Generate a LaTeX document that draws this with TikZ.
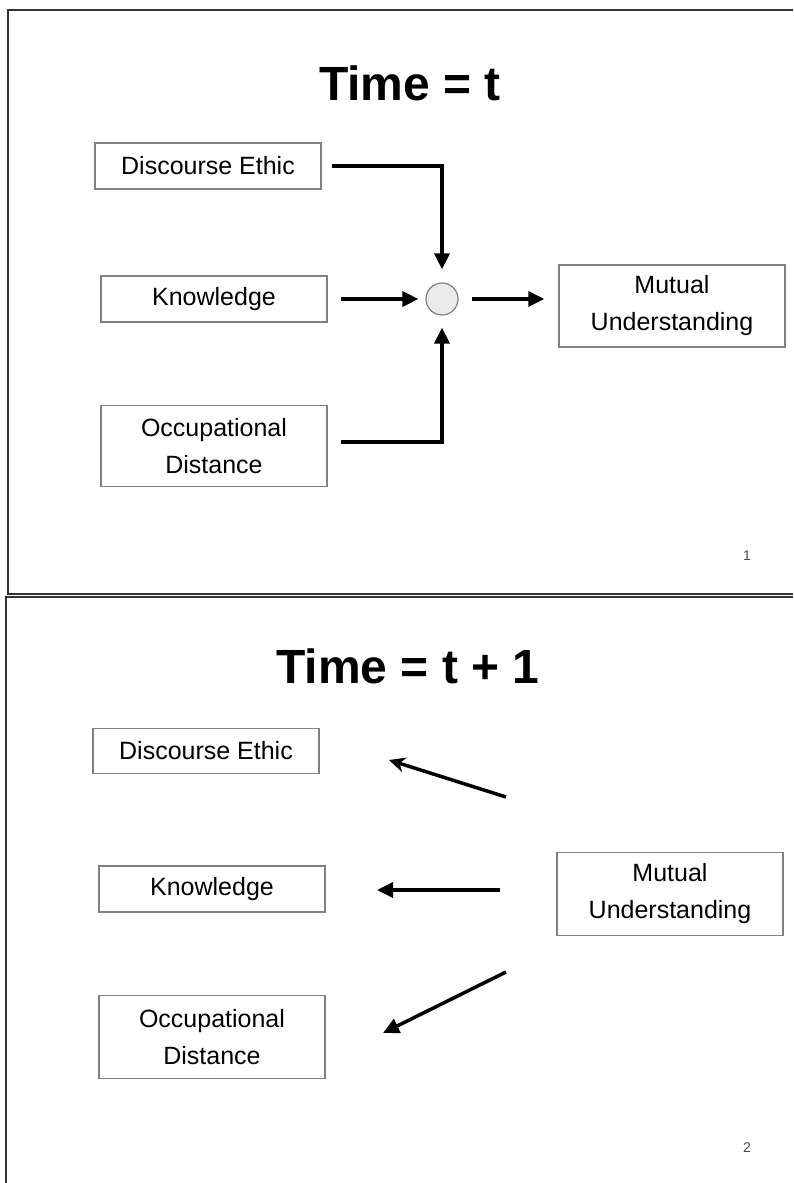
\documentclass[tikz,border=0pt]{standalone}
\usepackage{fontspec}
\setmainfont{Liberation Sans}
\usetikzlibrary{arrows.meta,positioning}

\begin{document}
\begin{tikzpicture}[x=1pt,y=-1pt,
  factor/.style={draw=black!50,line width=1.5pt,inner sep=0pt,align=center,
    minimum width=226,font=\fontsize{25}{37}\selectfont},
  slidetitle/.style={font=\fontsize{48}{56}\selectfont\bfseries},
  pagenum/.style={font=\fontsize{14}{16}\selectfont,black!70},
  link/.style={line width=3.5pt,-{Triangle[length=16pt,width=15pt]}},
  frame/.style={line width=1.5pt,black!80}]
\useasboundingbox (0,0) rectangle (793,1183);
% slide frames
\draw[frame] (793,10)--(8,10)--(8,594)--(793,594);
\draw[frame] (793,597)--(6,597)--(6,1183);
% slide 1
\node[slidetitle] (title1) at (410,83) {Time = t};
\node[factor,minimum height=46] (de1) at (208,166) {Discourse Ethic};
\node[factor,minimum height=46] (kn1) at (214,299) {Knowledge};
\node[factor,minimum height=81] (od1) at (214,446) {Occupational\\Distance};
\node[factor,minimum height=82] (mu1) at (672,306) {Mutual\\Understanding};
\node[circle,draw=black!50,fill=black!8,line width=1.2pt,minimum size=32,inner sep=0pt] (circ) at (442,299) {};
\draw[link,shorten <=10pt,shorten >=13pt] (de1.east) -| (circ.north);
\draw[link,shorten <=13pt,shorten >=7pt] (kn1.east) -- (circ.west);
\draw[link,shorten <=13pt,shorten >=14pt] (circ.east) -- (mu1.west |- circ.east);
\draw[link,shorten <=13pt,shorten >=12pt] ([yshift=4]od1.east) -| (circ.south);
\node[pagenum] (pg1) at (747,556) {1};
% slide 2
\node[slidetitle] (title2) at (408,666) {Time = t + 1};
\node[factor,minimum height=45] (de2) at (206,751) {Discourse Ethic};
\node[factor,minimum height=46] (kn2) at (212,889) {Knowledge};
\node[factor,minimum height=83] (od2) at (212,1037) {Occupational\\Distance};
\node[factor,minimum height=83] (mu2) at (670,894) {Mutual\\Understanding};
\coordinate (fb1) at (506,797);
\coordinate (fb1e) at (389,760);
\coordinate (fb2) at (500,890);
\coordinate (fb2e) at (377,890);
\coordinate (fb3) at (506,972);
\coordinate (fb3e) at (383,1033);
\draw[line width=3.5pt,-{Stealth[length=16pt,width=15pt,inset=5pt]}] (fb1) -- (fb1e);
\draw[link] (fb2) -- (fb2e);
\draw[link] (fb3) -- (fb3e);
\node[pagenum] (pg2) at (747,1148) {2};
\end{tikzpicture}
\end{document}
